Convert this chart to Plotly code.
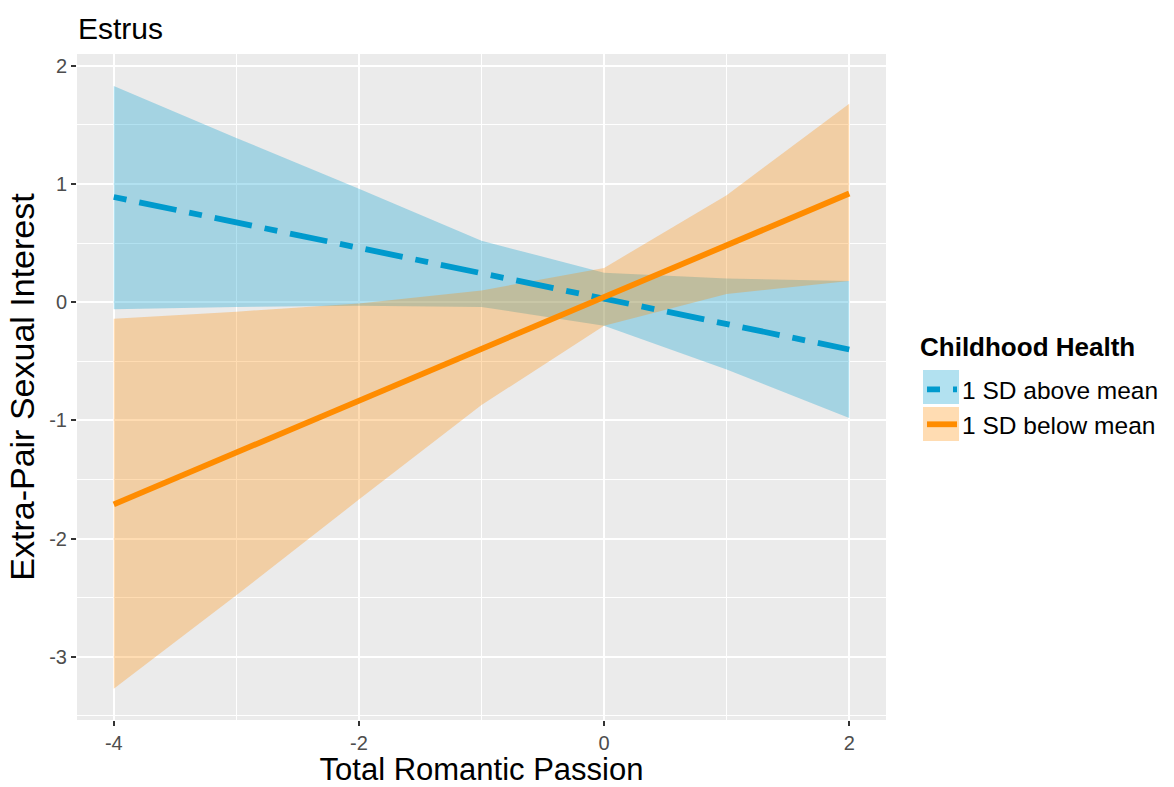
import plotly.graph_objects as go

# ---------------- data ----------------
passion = [-4, -3, -2, -1, 0, 1, 2]

group_labels = ["1 SD above mean", "1 SD below mean"]
legend_title = "Childhood Health"

above_fit = [0.89, 0.675, 0.46, 0.245, 0.03, -0.185, -0.40]
above_hi = [1.83, 1.39, 0.96, 0.52, 0.25, 0.20, 0.18]
above_lo = [-0.06, -0.04, -0.03, -0.04, -0.20, -0.57, -0.98]

below_fit = [-1.71, -1.27, -0.83, -0.395, 0.04, 0.48, 0.92]
below_hi = [-0.14, -0.08, -0.01, 0.10, 0.29, 0.905, 1.68]
below_lo = [-3.27, -2.48, -1.67, -0.87, -0.20, 0.07, 0.18]

x_ticks = [-4, -2, 0, 2]
x_ticktext = ["-4", "-2", "0", "2"]
y_ticks = [-3, -2, -1, 0, 1, 2]
y_ticktext = ["-3", "-2", "-1", "0", "1", "2"]

# ---------------- styling ----------------
BLUE = "#009ACD"
ORANGE = "#FF8C00"
BLUE_FILL = "rgba(0,154,205,0.3)"
ORANGE_FILL = "rgba(255,140,0,0.3)"
FONT = "Liberation Sans, Arial, sans-serif"

W, H = 1174, 787
ML, MR, MT, MB = 77, 288, 54, 67
PW, PH = W - ML - MR, H - MT - MB

fig = go.Figure()

# ribbons (blue first, orange on top)
for lo, hi, col in [(above_lo, above_hi, BLUE_FILL), (below_lo, below_hi, ORANGE_FILL)]:
    fig.add_trace(go.Scatter(
        x=passion + passion[::-1], y=hi + lo[::-1],
        fill="toself", fillcolor=col, mode="lines",
        line=dict(width=0), hoverinfo="skip", showlegend=False))

# fitted lines
fig.add_trace(go.Scatter(
    x=passion, y=above_fit, mode="lines", name=group_labels[0],
    line=dict(color=BLUE, width=5.8, dash="13px,13px,38px,13px")))
fig.add_trace(go.Scatter(
    x=passion, y=below_fit, mode="lines", name=group_labels[1],
    line=dict(color=ORANGE, width=5.8)))


def px_x(p):
    return (p - ML) / PW


def px_y(p):
    return (H - MB - p) / PH


# legend key backgrounds (ggplot-style filled keys)
for (y0, y1), col in [((370, 404), BLUE_FILL), ((407, 441), ORANGE_FILL)]:
    fig.add_shape(type="rect", xref="paper", yref="paper",
                  x0=px_x(923), x1=px_x(959), y0=px_y(y1), y1=px_y(y0),
                  fillcolor=col, line=dict(width=0), layer="above")

# legend title
fig.add_annotation(text="<b>" + legend_title + "</b>", xref="paper", yref="paper",
                   x=px_x(918), y=px_y(347), xanchor="left", yanchor="middle",
                   showarrow=False,
                   font=dict(family=FONT, size=26, color="black"))

axis_common = dict(
    automargin=False,
    showgrid=True, gridcolor="white", gridwidth=1.8,
    zeroline=False, showline=False,
    ticks="outside", ticklen=5, tickwidth=1.5, tickcolor="#333333",
    tickfont=dict(family=FONT, size=20, color="#4D4D4D"),
)

fig.update_layout(
    width=W, height=H,
    margin=dict(l=ML, r=MR, t=MT, b=MB, autoexpand=False),
    paper_bgcolor="white", plot_bgcolor="#EBEBEB",
    font=dict(family=FONT, color="black"),
    title=dict(text="Estrus", x=px_x(78), xref="paper", xanchor="left",
               y=1 - 28 / H, yref="container", yanchor="middle",
               font=dict(family=FONT, size=30, color="black")),
    xaxis=dict(range=[-4.3, 2.3], tickvals=x_ticks, ticktext=x_ticktext,
               ticklabelstandoff=0,
               minor=dict(tickvals=[-3, -1, 1], showgrid=True,
                          gridcolor="white", gridwidth=1.1),
               title=dict(text="Total Romantic Passion", standoff=9,
                          font=dict(family=FONT, size=31, color="black")),
               **axis_common),
    yaxis=dict(range=[-3.535, 2.1], tickvals=y_ticks, ticktext=y_ticktext,
               minor=dict(tickvals=[-3.5, -2.5, -1.5, -0.5, 0.5, 1.5],
                          showgrid=True, gridcolor="white", gridwidth=1.1),
               title=dict(text="Extra-Pair Sexual Interest", standoff=4,
                          font=dict(family=FONT, size=34, color="black")),
               **axis_common),
    legend=dict(
        font=dict(family=FONT, size=24.5, color="black"),
        x=px_x(922), xanchor="left", y=px_y(367), yanchor="top",
        bgcolor="rgba(0,0,0,0)", itemwidth=30, tracegroupgap=0,
    ),
)

fig.write_html("out.html")
